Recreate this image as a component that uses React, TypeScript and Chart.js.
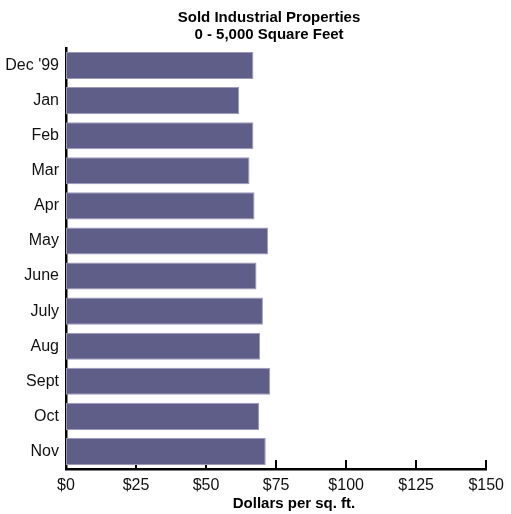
import React, { useEffect, useRef } from "react";
import { Chart, registerables } from "chart.js";

Chart.register(...registerables);

const CATEGORIES = ["Dec '99", "Jan", "Feb", "Mar", "Apr", "May", "June", "July", "Aug", "Sept", "Oct", "Nov"];
const VALUES = [66.9, 61.8, 66.9, 65.5, 67.3, 72.1, 68.0, 70.3, 69.3, 72.9, 68.9, 71.3];
const X_MIN = 0;
const X_MAX = 150;
const X_STEP = 25;
const TITLE_LINES = ["Sold Industrial Properties", "0 - 5,000 Square Feet"];
const X_TITLE = "Dollars per sq. ft.";

const FONT = "'Liberation Sans', Arial, sans-serif";

const decorPlugin = {
  id: "decor",
  beforeDatasetsDraw(chart: any) {
    const ctx = chart.ctx;
    const xs = chart.scales.x;
    const area = chart.chartArea;
    ctx.save();
    ctx.fillStyle = "#000";
    for (let v = X_MIN; v <= X_MAX; v += X_STEP) {
      const px = xs.getPixelForValue(v);
      ctx.fillRect(Math.round(px) - 1, area.bottom - 9, 2, 9);
    }
    ctx.restore();
  },
  afterDraw(chart: any) {
    const ctx = chart.ctx;
    ctx.save();
    ctx.fillStyle = "#000";
    ctx.textAlign = "center";
    ctx.textBaseline = "alphabetic";
    ctx.font = `bold 15px ${FONT}`;
    ctx.fillText(TITLE_LINES[0], 269, 22);
    ctx.fillText(TITLE_LINES[1], 269, 39);
    ctx.font = `bold 15px ${FONT}`;
    ctx.fillText(X_TITLE, 294, 508);
    ctx.restore();
  },
};

export default function App() {
  const ref = useRef<HTMLCanvasElement | null>(null);
  useEffect(() => {
    if (!ref.current) return;
    const chart = new Chart(ref.current, {
      type: "bar",
      data: {
        labels: CATEGORIES,
        datasets: [
          {
            data: VALUES,
            backgroundColor: "#5f5e88",
            borderColor: "#9a99bd",
            borderWidth: 1,
            borderSkipped: false,
            categoryPercentage: 1,
            barPercentage: 0.77,
          },
        ],
      },
      options: {
        indexAxis: "y",
        responsive: false,
        animation: false,
        layout: { padding: { top: 48, right: 22, bottom: 0, left: 0 } },
        plugins: {
          legend: { display: false },
          title: { display: false },
          tooltip: { enabled: false },
        },
        scales: {
          x: {
            type: "linear",
            min: X_MIN,
            max: X_MAX,
            afterFit: (s: any) => {
              s.height = 45;
            },
            grid: { display: false, drawTicks: false },
            border: { display: true, color: "#000", width: 2.5 },
            ticks: {
              stepSize: X_STEP,
              padding: 7,
              color: "#111",
              font: { family: FONT, size: 16 },
              callback: (v: any) => "$" + v,
              maxRotation: 0,
            },
          },
          y: {
            afterFit: (s: any) => {
              s.width = 66;
            },
            grid: { display: false, drawTicks: false },
            border: { display: true, color: "#000", width: 2.5 },
            ticks: {
              padding: 7,
              color: "#111",
              font: { family: FONT, size: 16 },
            },
          },
        },
      },
      plugins: [decorPlugin],
    });
    return () => chart.destroy();
  }, []);
  return (
    <div style={{ position: "absolute", left: 0, top: 0, width: 511, height: 514, background: "#fff" }}>
      <canvas ref={ref} width={511} height={514} style={{ display: "block" }} />
    </div>
  );
}
